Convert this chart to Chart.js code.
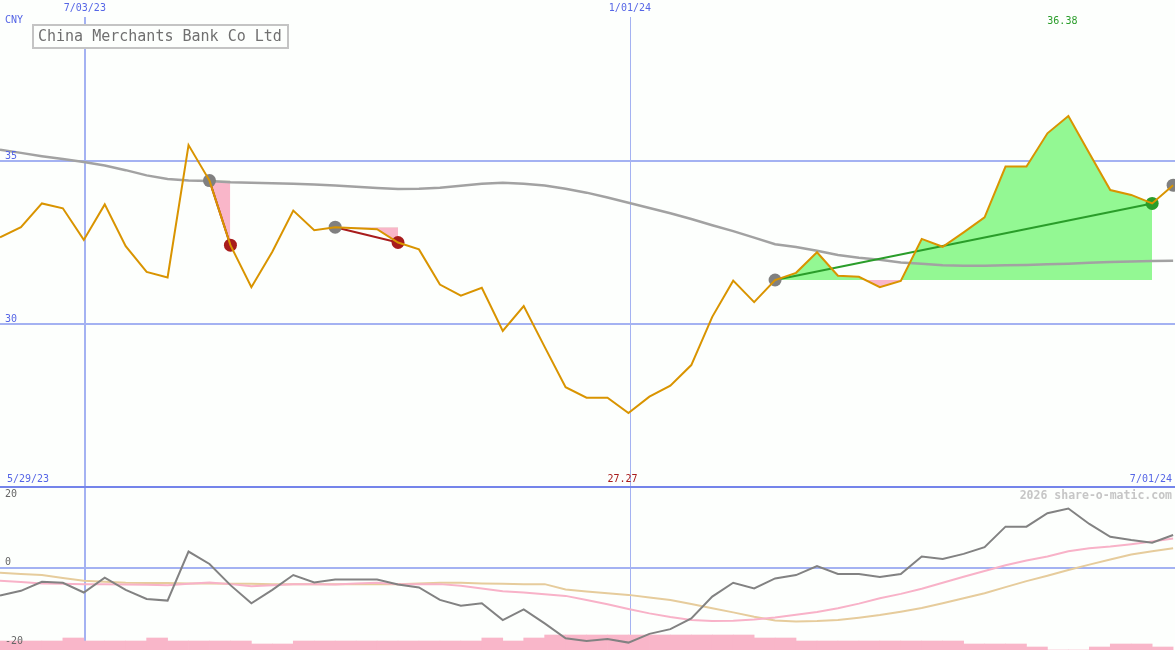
<!DOCTYPE html>
<html>
<head>
<meta charset="utf-8">
<script src="https://cdn.jsdelivr.net/npm/chart.js@4/dist/chart.umd.min.js"></script>
<style>
body { margin: 0; background: #fdfffd; }
#topBox { position: absolute; left: 0; top: 0; width: 1175px; height: 487px; }
#botBox { position: absolute; left: 0; top: 487px; width: 1175px; height: 163px; }
</style>
</head>
<body>
<div id="topBox"><canvas id="priceChart" width="1175" height="487"></canvas></div>
<div id="botBox"><canvas id="oscChart" width="1175" height="163"></canvas></div>
<script>
// ===============================
// DATA (weekly, index 0..56)
// ===============================
const companyName = "China Merchants Bank Co Ltd";
const currency = "CNY";
const dateTicks = [4.05, 30.07];
const dateTickLabels = ["7/03/23", "1/01/24"];
const rangeLabels = ["5/29/23", "7/01/24"];
const priceTicks = [30, 35];
const oscTicks = [20, 0, -20];
const credit = "2026 share-o-matic.com";

const price = [32.66, 32.97, 33.70, 33.55, 32.58, 33.67, 32.39, 31.60, 31.43, 35.49,
  34.40, 32.42, 31.13, 32.22, 33.48, 32.88, 32.97, 32.94, 32.91, 32.50,
  32.29, 31.21, 30.87, 31.11, 29.79, 30.55, 29.30, 28.06, 27.74, 27.74,
  27.27, 27.77, 28.11, 28.74, 30.22, 31.33, 30.67, 31.35, 31.57, 32.20,
  31.48, 31.45, 31.13, 31.32, 32.61, 32.37, 32.81, 33.27, 34.83, 34.83,
  35.85, 36.38, 35.24, 34.11, 33.96, 33.70, 34.26];

const priceMA = [35.35, 35.25, 35.15, 35.06, 34.97, 34.86, 34.72, 34.56, 34.45, 34.40,
  34.39, 34.35, 34.33, 34.32, 34.30, 34.28, 34.25, 34.21, 34.17, 34.14,
  34.15, 34.18, 34.24, 34.30, 34.33, 34.30, 34.25, 34.15, 34.03, 33.88,
  33.72, 33.56, 33.40, 33.22, 33.03, 32.85, 32.65, 32.45, 32.36, 32.25,
  32.12, 32.03, 31.97, 31.89, 31.85, 31.80, 31.79, 31.79, 31.80, 31.81,
  31.83, 31.85, 31.88, 31.90, 31.92, 31.93, 31.94];

const oscMain = [-8.2, -6.8, -4.1, -4.4, -7.3, -2.9, -6.5, -9.2, -9.7, 4.9,
  1.2, -5.1, -10.5, -6.5, -2.1, -4.3, -3.4, -3.4, -3.4, -4.9,
  -5.8, -9.5, -11.2, -10.5, -15.5, -12.3, -16.5, -20.9, -21.7, -21.1,
  -22.2, -19.6, -18.2, -15.0, -8.5, -4.4, -6.1, -3.1, -2.1, 0.6,
  -1.8, -1.8, -2.7, -1.8, 3.4, 2.7, 4.2, 6.2, 12.3, 12.3,
  16.3, 17.7, 13.1, 9.3, 8.3, 7.5, 9.8];

const oscFast = [-3.8, -4.2, -4.6, -4.7, -4.8, -4.8, -4.9, -5.0, -5.1, -4.7,
  -4.3, -4.8, -5.4, -5.1, -4.8, -4.8, -4.9, -4.6, -4.4, -4.8,
  -4.8, -4.8, -5.3, -6.1, -6.9, -7.3, -7.8, -8.3, -9.5, -10.8,
  -12.2, -13.5, -14.6, -15.5, -15.8, -15.7, -15.3, -14.7, -13.9, -13.1,
  -12.0, -10.6, -9.0, -7.7, -6.2, -4.4, -2.6, -0.9, 0.8, 2.2,
  3.4, 5.0, 5.9, 6.4, 7.1, 7.9, 8.8];

const oscSlow = [-1.4, -1.8, -2.1, -3.0, -3.8, -4.1, -4.4, -4.5, -4.5, -4.6,
  -4.6, -4.7, -4.7, -4.8, -4.8, -4.8, -4.8, -4.8, -4.8, -4.8,
  -4.6, -4.4, -4.4, -4.6, -4.7, -4.8, -4.8, -6.4, -7.0, -7.5,
  -8.0, -8.8, -9.5, -10.7, -12.0, -13.2, -14.5, -15.6, -15.9, -15.8,
  -15.5, -14.8, -14.0, -13.0, -11.9, -10.5, -9.0, -7.5, -5.7, -3.9,
  -2.3, -0.6, 1.0, 2.5, 4.0, 5.0, 5.9];

const volume = [3, 3, 3, 4, 3, 3, 3, 4, 3, 3,
  3, 3, 2, 2, 3, 3, 3, 3, 3, 3,
  3, 3, 3, 4, 3, 4, 5, 5, 5, 5,
  5, 5, 5, 5, 5, 5, 4, 4, 3, 3,
  3, 3, 3, 3, 3, 3, 2, 2, 2, 1,
  0, 0, 1, 2, 2, 1];

// trades: [entry index, exit index]
const trades = [[10, 11], [16, 19], [37, 55]];
const openEntries = [56];

// ===============================
// STYLE
// ===============================
const MONO = '"DejaVu Sans Mono", monospace';
const BG = "#fdfffd";
const GRID = "#a4b2f2";
const BLUE_TXT = "#5666e6";
const GAIN = "#2a9d2a";
const LOSS = "#a81c1c";
const SEPARATOR = "#7484ea";
const X_MAX = 56.09;

const pt = (arr, i) => ({ x: i, y: arr[i] });
const series = arr => arr.map((v, i) => ({ x: i, y: v }));

// ===============================
// PLUGINS
// ===============================
const gridPlugin = {
  id: "gridLines",
  beforeDatasetsDraw(chart, args, opts) {
    const { ctx, chartArea, scales } = chart;
    ctx.save();
    ctx.strokeStyle = GRID;
    (opts.yLines || []).forEach(v => {
      const y = Math.round(scales.y.getPixelForValue(v));
      ctx.lineWidth = 2;
      ctx.beginPath();
      ctx.moveTo(chartArea.left, y);
      ctx.lineTo(chartArea.right, y);
      ctx.stroke();
    });
    dateTicks.forEach((v, k) => {
      const x = Math.round(scales.x.getPixelForValue(v));
      ctx.lineWidth = k === 0 ? 2 : 1;
      const xx = x + (k === 0 ? 0 : 0.5);
      ctx.beginPath();
      ctx.moveTo(xx, opts.vTop || 0);
      ctx.lineTo(xx, chartArea.bottom);
      ctx.stroke();
    });
    ctx.restore();
  }
};

function txt(ctx, s, x, y, color, align, font) {
  ctx.fillStyle = color;
  ctx.textAlign = align;
  ctx.textBaseline = "middle";
  ctx.font = font || ("10px " + MONO);
  ctx.fillText(s, x, y);
}

const priceLabels = {
  id: "priceLabels",
  afterDraw(chart) {
    const { ctx, scales, chartArea } = chart;
    ctx.save();
    txt(ctx, currency, 5, 20, BLUE_TXT, "left");
    priceTicks.forEach(v => txt(ctx, String(v), 5, scales.y.getPixelForValue(v) - 5, BLUE_TXT, "left"));
    dateTicks.forEach((v, k) => txt(ctx, dateTickLabels[k], scales.x.getPixelForValue(v), 8, BLUE_TXT, "center"));
    txt(ctx, rangeLabels[0], 7, 479, BLUE_TXT, "left");
    txt(ctx, rangeLabels[1], 1172, 479, BLUE_TXT, "right");

    const hi = Math.max(...price), lo = Math.min(...price);
    txt(ctx, hi.toFixed(2), scales.x.getPixelForValue(price.indexOf(hi)) - 6, 21, GAIN, "center");
    txt(ctx, lo.toFixed(2), scales.x.getPixelForValue(price.indexOf(lo)) - 6, 479, LOSS, "center");

    // title box
    ctx.fillStyle = BG;
    ctx.fillRect(33, 25, 255, 23);
    ctx.strokeStyle = "#c4c4c4";
    ctx.lineWidth = 2;
    ctx.strokeRect(33, 25, 255, 23);
    txt(ctx, companyName, 38, 37, "#707070", "left", "15px " + MONO);

    // upper half of the panel separator
    ctx.fillStyle = SEPARATOR;
    ctx.fillRect(0, chartArea.bottom - 1, chartArea.right, 1);
    ctx.restore();
  }
};

const oscLabels = {
  id: "oscLabels",
  afterDraw(chart) {
    const { ctx, scales, chartArea } = chart;
    ctx.save();
    // lower half of the panel separator
    ctx.fillStyle = SEPARATOR;
    ctx.fillRect(0, 0, chartArea.right, 1);
    oscTicks.forEach(v => {
      const p = scales.y.getPixelForValue(v);
      txt(ctx, String(v), 5, v < 0 ? p + 6 : p - 6, "#666666", "left");
    });
    txt(ctx, credit, 1172, 9, "#c6c6c6", "right", "bold 11.5px " + MONO);
    ctx.restore();
  }
};

// ===============================
// PRICE CHART
// ===============================
const tradeLines = trades.map(([a, b]) => ({
  data: [pt(price, a), pt(price, b)],
  borderColor: price[b] >= price[a] ? GAIN : LOSS,
  borderWidth: 2,
  pointRadius: 0
}));

const tradeFills = trades.map(([a, b]) => ({
  data: price.slice(a, b + 1).map((v, k) => ({ x: a + k, y: v })),
  borderWidth: 0,
  pointRadius: 0,
  fill: { target: { value: price[a] }, above: "#93f893", below: "#f9b6c9" }
}));

const markPoints = [];
const markColors = [];
trades.forEach(([a, b]) => {
  markPoints.push(pt(price, a)); markColors.push("#808080");
  markPoints.push(pt(price, b)); markColors.push(price[b] >= price[a] ? GAIN : LOSS);
});
openEntries.forEach(i => { markPoints.push(pt(price, i)); markColors.push("#808080"); });

const baseOptions = {
  responsive: false,
  animation: false,
  devicePixelRatio: 1,
  layout: { padding: 0, autoPadding: false },
  elements: { line: { tension: 0 } }
};

new Chart(document.getElementById("priceChart"), {
  type: "line",
  data: {
    datasets: [
      { data: series(price), borderColor: "#d99400", borderWidth: 2, pointRadius: 0 },
      { data: markPoints, showLine: false, pointRadius: 6.5, pointBorderWidth: 0,
        pointBackgroundColor: markColors, borderColor: "transparent" },
      ...tradeLines,
      { data: series(priceMA), borderColor: "#a2a2a2", borderWidth: 2.5, pointRadius: 0 },
      ...tradeFills
    ]
  },
  options: {
    ...baseOptions,
    plugins: { legend: { display: false }, tooltip: { enabled: false },
      gridLines: { yLines: priceTicks, vTop: 17 } },
    scales: {
      x: { type: "linear", min: 0, max: X_MAX, offset: false, display: false },
      y: { min: 25, max: 39.94, display: false }
    }
  },
  plugins: [gridPlugin, priceLabels]
});

// ===============================
// OSCILLATOR CHART
// ===============================
new Chart(document.getElementById("oscChart"), {
  type: "line",
  data: {
    datasets: [
      { data: series(oscMain), borderColor: "#828282", borderWidth: 2, pointRadius: 0 },
      { data: series(oscFast), borderColor: "#f8b2c8", borderWidth: 2, pointRadius: 0 },
      { data: series(oscSlow), borderColor: "#e6cc9c", borderWidth: 2, pointRadius: 0 },
      { type: "bar", yAxisID: "yv",
        data: volume.map((v, i) => ({ x: i + 0.5, y: v })),
        backgroundColor: "#f9b6c9", barPercentage: 1, categoryPercentage: 1, borderWidth: 0 }
    ]
  },
  options: {
    ...baseOptions,
    plugins: { legend: { display: false }, tooltip: { enabled: false },
      gridLines: { yLines: [0], vTop: 0 } },
    scales: {
      x: { type: "linear", min: 0, max: X_MAX, offset: false, display: false },
      y: { min: -24.4, max: 24.1, display: false },
      yv: { min: 0, max: 54.33, display: false }
    }
  },
  plugins: [gridPlugin, oscLabels]
});
</script>
</body>
</html>
